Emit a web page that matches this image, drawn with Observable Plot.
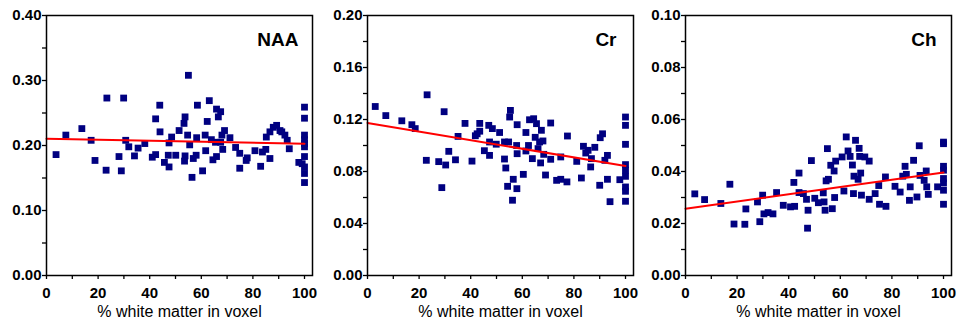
<!DOCTYPE html>
<html><head><meta charset="utf-8">
<script src="https://cdn.jsdelivr.net/npm/d3@7"></script>
<script src="https://cdn.jsdelivr.net/npm/@observablehq/plot@0.6"></script>
<style>
body{margin:0;background:#fff;}
#wrap{position:relative;width:958px;height:322px;overflow:hidden;}
#wrap > svg{position:absolute;top:0;}
</style></head><body><div id="wrap"></div>
<script>
// % white matter in voxel (x) and metabolite values (y)
const naaX = [3.7, 7.5, 13.7, 17.3, 18.8, 23.4, 23.1, 28.1, 29.0, 29.9,
  30.7, 31.9, 34.1, 35.5, 38.1, 41.0, 42.3, 42.3, 43.9, 44.0,
  45.7, 47.2, 47.5, 47.5, 48.5, 50.1, 51.4, 53.3, 53.7, 53.7,
  53.5, 55.0, 54.7, 55.5, 56.4, 56.9, 58.0, 58.2, 58.5, 60.5,
  61.5, 61.7, 62.3, 63.1, 63.9, 64.5, 65.5, 65.9, 65.9, 66.6,
  67.5, 67.5, 68.0, 68.3, 69.0, 71.1, 73.3, 74.9, 74.9, 77.4,
  77.8, 80.8, 83.0, 83.7, 85.0, 85.2, 86.6, 86.6, 87.9, 89.2,
  90.5, 91.2, 92.4, 93.3, 94.1, 97.8, 99.1, 100, 100, 100,
  100, 100, 100, 100, 100, 100, 100];
const naaY = [0.186, 0.216, 0.226, 0.208, 0.177, 0.273, 0.162, 0.183, 0.161, 0.273,
  0.208, 0.198, 0.184, 0.196, 0.203, 0.182, 0.241, 0.186, 0.262, 0.221,
  0.174, 0.185, 0.204, 0.167, 0.213, 0.185, 0.223, 0.234, 0.244, 0.184,
  0.176, 0.308, 0.216, 0.201, 0.151, 0.180, 0.185, 0.212, 0.262, 0.161,
  0.216, 0.192, 0.237, 0.269, 0.209, 0.178, 0.205, 0.256, 0.183, 0.244,
  0.252, 0.205, 0.216, 0.194, 0.223, 0.212, 0.197, 0.188, 0.165, 0.177,
  0.181, 0.192, 0.168, 0.190, 0.194, 0.213, 0.180, 0.221, 0.228, 0.231,
  0.223, 0.221, 0.216, 0.208, 0.195, 0.174, 0.172, 0.259, 0.242, 0.216,
  0.209, 0.203, 0.198, 0.183, 0.167, 0.157, 0.143];

const crX = [3.0, 7.1, 13.3, 17.2, 18.5, 23.1, 22.8, 27.6, 28.8, 29.7,
  30.3, 31.5, 34.1, 35.1, 37.8, 40.5, 41.8, 43.5, 43.5, 42.5,
  45.3, 47.0, 47.3, 47.3, 48.4, 49.9, 51.2, 53.1, 53.1, 53.6,
  54.3, 54.7, 55.1, 55.4, 56.2, 56.5, 57.8, 57.9, 58.0, 58.0,
  60.4, 61.4, 61.4, 62.4, 62.8, 63.9, 64.4, 65.0, 65.5, 66.1,
  66.7, 67.1, 67.4, 68.0, 68.3, 69.0, 71.0, 71.0, 73.3, 74.9,
  74.9, 77.3, 77.5, 81.1, 82.9, 83.7, 84.6, 85.5, 86.5, 86.8,
  88.1, 90.0, 90.2, 91.1, 92.0, 93.0, 93.0, 94.0, 97.8, 100,
  100, 100, 100, 100, 100, 100, 100, 100];
const crY = [0.130, 0.123, 0.119, 0.116, 0.113, 0.139, 0.0886, 0.0876, 0.0676, 0.126,
  0.085, 0.0955, 0.089, 0.107, 0.117, 0.088, 0.1075, 0.117, 0.111, 0.109,
  0.096, 0.1155, 0.1027, 0.0924, 0.113, 0.101, 0.110, 0.1027, 0.0896, 0.0827,
  0.0686, 0.1027, 0.1219, 0.127, 0.0579, 0.074, 0.100, 0.0668, 0.116, 0.0937,
  0.0778, 0.110, 0.0958, 0.100, 0.1198, 0.0899, 0.1206, 0.1063, 0.1168, 0.0976,
  0.1027, 0.0866, 0.1117, 0.1035, 0.0932, 0.0773, 0.1173, 0.0894, 0.0732, 0.0912,
  0.074, 0.072, 0.1073, 0.0878, 0.075, 0.0994, 0.0942, 0.0963, 0.0835, 0.0899,
  0.0986, 0.0694, 0.106, 0.109, 0.0886, 0.074, 0.0924, 0.0568, 0.0737, 0.1219,
  0.1155, 0.1009, 0.0853, 0.081, 0.0763, 0.0681, 0.0648, 0.0571];

const chX = [3.6, 7.4, 13.7, 17.2, 18.8, 23.0, 23.4, 27.9, 28.8, 29.9,
  30.4, 32.0, 33.9, 35.3, 37.9, 40.7, 42.0, 42.3, 44.0, 44.0,
  45.7, 46.9, 47.3, 47.5, 48.8, 50.1, 51.5, 53.4, 53.7, 54.1,
  54.5, 55.0, 55.4, 56.3, 56.9, 57.6, 57.8, 58.2, 60.7, 61.4,
  62.3, 63.0, 63.8, 64.7, 65.1, 65.3, 65.9, 66.9, 67.3, 67.5,
  67.9, 68.2, 69.5, 71.2, 71.2, 73.5, 74.9, 75.2, 77.5, 77.7,
  81.2, 83.2, 84.2, 85.1, 85.6, 86.8, 87.1, 88.4, 89.7, 90.6,
  90.9, 92.5, 93.3, 93.5, 94.1, 97.7, 100, 100, 100, 100,
  100, 100, 100, 100];
const chY = [0.0314, 0.0292, 0.0277, 0.0351, 0.0198, 0.0197, 0.0256, 0.0283, 0.0207, 0.0309,
  0.0237, 0.0242, 0.0237, 0.0319, 0.027, 0.0264, 0.0358, 0.0266, 0.0394, 0.0319,
  0.0315, 0.0293, 0.0182, 0.0251, 0.0442, 0.0297, 0.028, 0.0318, 0.0283, 0.0251,
  0.0364, 0.0488, 0.037, 0.0424, 0.0257, 0.0402, 0.03, 0.044, 0.0456, 0.0325,
  0.0533, 0.0479, 0.0458, 0.0425, 0.0315, 0.0382, 0.052, 0.037, 0.0489, 0.0458,
  0.0394, 0.0309, 0.0456, 0.044, 0.0293, 0.0315, 0.0346, 0.0274, 0.0379, 0.0266,
  0.0343, 0.0321, 0.0382, 0.042, 0.0389, 0.0289, 0.0341, 0.0443, 0.0302, 0.0499,
  0.0385, 0.0366, 0.0402, 0.0341, 0.0312, 0.0341, 0.0513, 0.0507, 0.042, 0.0405,
  0.0373, 0.0356, 0.0328, 0.0274];

// regression line end points (x = 0 and x = 100)
const fitX = [0, 100];
const naaFit = [0.2105, 0.2028];
const crFit = [0.1173, 0.0843];
const chFit = [0.0257, 0.0396];

// tick values
const xMajor = [0, 20, 40, 60, 80, 100];
const xMinor = [10, 30, 50, 70, 90];
const naaMajor = [0, 0.1, 0.2, 0.3, 0.4];
const naaMinor = [0.05, 0.15, 0.25, 0.35];
const crMajor = [0, 0.04, 0.08, 0.12, 0.16, 0.2];
const crMinor = [0.02, 0.06, 0.1, 0.14, 0.18];
const chMajor = [0, 0.02, 0.04, 0.06, 0.08, 0.1];
const chMinor = [0.01, 0.03, 0.05, 0.07, 0.09];

const panels = [
  {name: "NAA", xs: naaX, ys: naaY, fit: naaFit, max: 0.4, major: naaMajor, minor: naaMinor, left: 0, dx: -14},
  {name: "Cr", xs: crX, ys: crY, fit: crFit, max: 0.2, major: crMajor, minor: crMinor, left: 321, dx: -17},
  {name: "Ch", xs: chX, ys: chY, fit: chFit, max: 0.1, major: chMajor, minor: chMinor, left: 639, dx: -15}
];

const wrap = document.getElementById("wrap");
for (const p of panels) {
  const pts = p.xs.map((x, i) => ({x, y: p.ys[i]}));
  const line = fitX.map((x, i) => ({x, y: p.fit[i]}));
  const svg = Plot.plot({
    width: 320, height: 322,
    marginLeft: 46, marginRight: 8, marginTop: 15, marginBottom: 47,
    style: {fontFamily: "'Liberation Sans', Arial, sans-serif", background: "white", color: "black", overflow: "visible"},
    x: {domain: [0, 103.1]},
    y: {domain: [0, p.max]},
    marks: [
      Plot.dot(pts, {x: "x", y: "y", symbol: "square", r: 3.85, fill: "#000080", stroke: "none"}),
      Plot.line(line, {x: "x", y: "y", stroke: "#ff0000", strokeWidth: 2}),
      Plot.frame({stroke: "black", strokeWidth: 1.5, strokeOpacity: 1}),
      Plot.axisY(p.major, {anchor: "left", tickSize: 4, tickPadding: 1, tickFormat: d => d.toFixed(2), fontSize: 15, fontWeight: "bold", label: null, stroke: "black", fill: "black", strokeWidth: 1.3, strokeOpacity: 1}),
      Plot.axisY(p.minor, {anchor: "left", tickSize: 4, tickFormat: () => "", label: null, stroke: "black", strokeWidth: 1.3, strokeOpacity: 1}),
      Plot.axisX(xMajor, {anchor: "bottom", tickSize: 4, tickPadding: 8, tickFormat: d => String(d), fontSize: 15, fontWeight: "bold", label: null, stroke: "black", fill: "black", strokeWidth: 1.3, strokeOpacity: 1}),
      Plot.axisX(xMinor, {anchor: "bottom", tickSize: 4, tickFormat: () => "", label: null, stroke: "black", strokeWidth: 1.3, strokeOpacity: 1}),
      Plot.text(["% white matter in voxel"], {frameAnchor: "bottom", dy: 41, lineAnchor: "bottom", text: d => d, fontSize: 16, fill: "black"}),
      Plot.text([p.name], {frameAnchor: "top-right", dx: p.dx, dy: 30, lineAnchor: "bottom", textAnchor: "end", text: d => d, fontSize: 19, fontWeight: "bold", fill: "black"})
    ]
  });
  svg.style.left = p.left + "px";
  wrap.appendChild(svg);
}
</script>
</body></html>
